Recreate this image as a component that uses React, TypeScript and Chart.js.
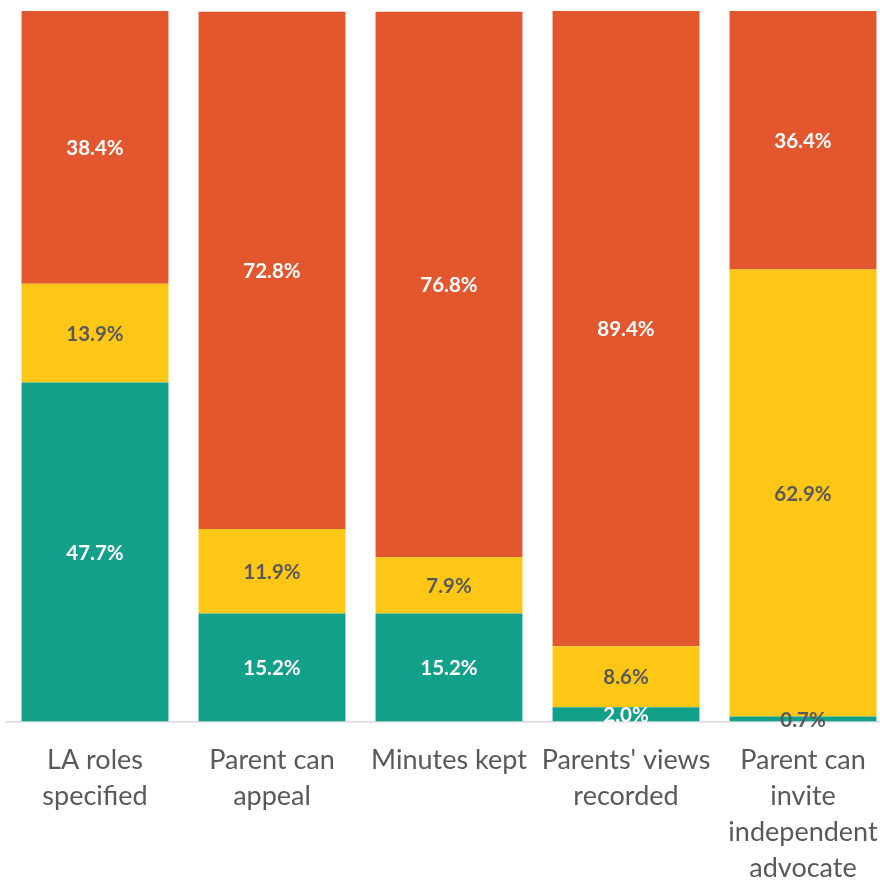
import React, { useEffect, useRef } from 'react';
import { Chart, registerables } from 'chart.js';

Chart.register(...registerables);

// Categories (multi-line tick labels)
const categories: (string | string[])[] = [
  ['LA roles', 'specified'],
  ['Parent can', 'appeal'],
  'Minutes kept',
  ["Parents' views", 'recorded'],
  ['Parent can', 'invite', 'independent', 'advocate'],
];

// Stacked series, bottom to top (percent)
const yesValues = [47.7, 15.2, 15.2, 2.0, 0.7];
const partlyValues = [13.9, 11.9, 7.9, 8.6, 62.9];
const noValues = [38.4, 72.8, 76.8, 89.4, 36.4];

const TEAL = '#13A08A';
const YELLOW = '#FFC715';
const ORANGE = '#E3572F';
const GREY_TEXT = '#595959';

// Label colour for each segment
const labelColours: string[][] = [
  ['#ffffff', '#ffffff', '#ffffff', '#ffffff', GREY_TEXT],
  [GREY_TEXT, GREY_TEXT, GREY_TEXT, GREY_TEXT, GREY_TEXT],
  ['#ffffff', '#ffffff', '#ffffff', '#ffffff', '#ffffff'],
];

const segmentLabels = {
  id: 'segmentLabels',
  afterDatasetsDraw(chart: any) {
    const ctx = chart.ctx as CanvasRenderingContext2D;
    ctx.save();
    ctx.font = 'bold 20.5px Lato';
    ctx.textAlign = 'center';
    ctx.textBaseline = 'middle';
    chart.data.datasets.forEach((ds: any, i: number) => {
      const meta = chart.getDatasetMeta(i);
      meta.data.forEach((bar: any, j: number) => {
        const { x, y, base } = bar.getProps(['x', 'y', 'base'], true);
        const v = ds.data[j] as number;
        ctx.fillStyle = labelColours[i][j];
        ctx.fillText(v.toFixed(1) + '%', x, (y + base) / 2 + 1);
      });
    });
    ctx.restore();
  },
};

export default function App() {
  const canvasRef = useRef<HTMLCanvasElement | null>(null);

  useEffect(() => {
    if (!canvasRef.current) return;
    const chart = new Chart(canvasRef.current, {
      type: 'bar',
      data: {
        labels: categories,
        datasets: [
          { label: 'Yes', data: yesValues, backgroundColor: TEAL },
          { label: 'Partly', data: partlyValues, backgroundColor: YELLOW },
          { label: 'No', data: noValues, backgroundColor: ORANGE },
        ],
      },
      options: {
        animation: false,
        responsive: false,
        devicePixelRatio: 1,
        layout: { padding: { left: 6.5, right: 0.5, top: 11, bottom: 0 } },
        datasets: {
          bar: { barPercentage: 0.83, categoryPercentage: 1, borderWidth: 0 },
        },
        plugins: {
          legend: { display: false },
          tooltip: { enabled: false },
        },
        scales: {
          x: {
            stacked: true,
            grid: { display: false, drawTicks: false },
            border: { display: true, color: '#d9d9d9', width: 1.5 },
            ticks: {
              color: GREY_TEXT,
              font: { family: 'Lato', size: 27, lineHeight: '36px' },
              padding: 20.5,
              maxRotation: 0,
              autoSkip: false,
            },
            afterFit: (scale: any) => {
              scale.height = 158.5;
              scale.paddingLeft = 0;
              scale.paddingRight = 0;
            },
          },
          y: {
            stacked: true,
            display: false,
            min: 0,
            max: 100,
          },
        },
      },
      plugins: [segmentLabels],
    });
    return () => chart.destroy();
  }, []);

  return (
    <div
      style={{
        position: 'fixed',
        left: 0,
        top: 0,
        width: 880,
        height: 880,
        overflow: 'hidden',
        background: '#ffffff',
      }}
    >
      <canvas ref={canvasRef} width={892} height={880} style={{ display: 'block' }} />
    </div>
  );
}
